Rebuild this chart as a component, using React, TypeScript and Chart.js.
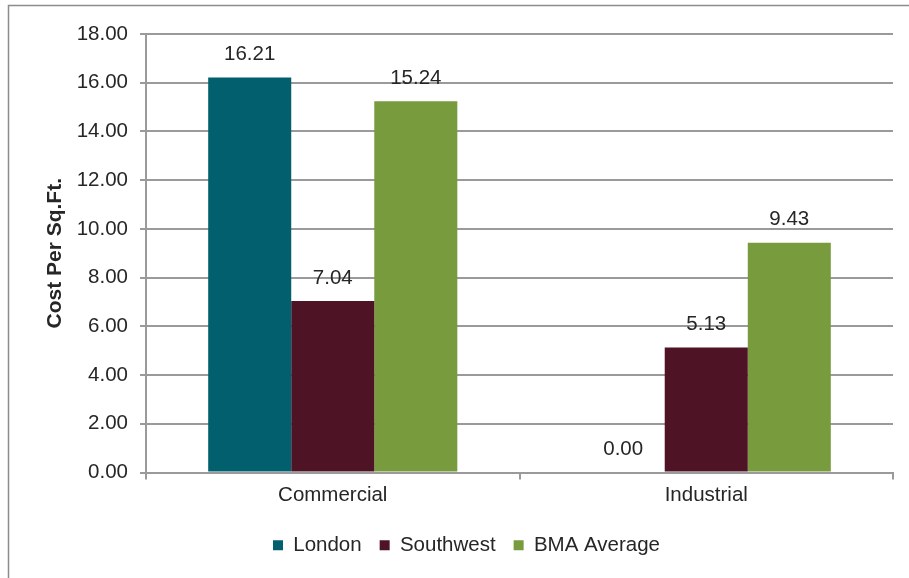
import React, { useEffect, useRef } from "react";
import { Chart, registerables } from "chart.js";

Chart.register(...registerables);

const categories = ["Commercial", "Industrial"];
const londonValues = [16.21, 0.0];
const southwestValues = [7.04, 5.13];
const bmaValues = [15.24, 9.43];
const seriesNames = ["London", "Southwest", "BMA Average"];
const yTitle = "Cost Per Sq.Ft.";

const FONT = "'Liberation Sans', Arial, Helvetica, sans-serif";
const TEXT = "#262626";
const GRID = "#9a9a9a";

const frame = {
  id: "frame",
  beforeDraw(chart: any) {
    const ctx = chart.ctx;
    ctx.save();
    ctx.fillStyle = "#ffffff";
    ctx.fillRect(0, 0, chart.width, chart.height);
    ctx.strokeStyle = "#8c8c8c";
    ctx.lineWidth = 1.5;
    ctx.strokeRect(8.5, 5.5, chart.width + 20, chart.height + 20);
    ctx.restore();
  },
};

const valueLabels = {
  id: "valueLabels",
  afterDatasetsDraw(chart: any) {
    const ctx = chart.ctx;
    ctx.save();
    ctx.font = `20.5px ${FONT}`;
    ctx.fillStyle = TEXT;
    ctx.textAlign = "center";
    ctx.textBaseline = "middle";
    chart.data.datasets.forEach((ds: any, i: number) => {
      const meta = chart.getDatasetMeta(i);
      meta.data.forEach((bar: any, j: number) => {
        const v = ds.data[j] as number;
        ctx.fillText(v.toFixed(2), bar.x, bar.y - 23);
      });
    });
    ctx.restore();
  },
};

export default function App() {
  const ref = useRef<HTMLCanvasElement | null>(null);
  useEffect(() => {
    if (!ref.current) return;
    const chart = new Chart(ref.current, {
      type: "bar",
      data: {
        labels: categories,
        datasets: [
          { label: seriesNames[0], data: londonValues, backgroundColor: "#025F6D" },
          { label: seriesNames[1], data: southwestValues, backgroundColor: "#4F1326" },
          { label: seriesNames[2], data: bmaValues, backgroundColor: "#789B3E" },
        ],
      },
      options: {
        animation: false,
        responsive: false,
        maintainAspectRatio: false,
        layout: { padding: { left: 40, top: 34, right: 16, bottom: 12.5 } },
        datasets: {
          bar: { categoryPercentage: 0.667, barPercentage: 1.0 },
        },
        scales: {
          x: {
            grid: {
              offset: true,
              drawOnChartArea: false,
              drawTicks: true,
              tickLength: 7,
              color: GRID,
              lineWidth: 2,
            },
            border: { display: true, color: GRID, width: 2 },
            ticks: {
              color: TEXT,
              font: { family: FONT, size: 20.5 },
              padding: 4,
            },
            afterFit: (s: any) => {
              s.height = 44.5;
            },
          },
          y: {
            min: 0,
            max: 18,
            ticks: {
              stepSize: 2,
              color: TEXT,
              font: { family: FONT, size: 20.5 },
              padding: 12,
              callback: (v: any) => Number(v).toFixed(2),
            },
            grid: { color: GRID, lineWidth: 2, tickLength: 6, drawTicks: true },
            border: { display: true, color: GRID, width: 2 },
            title: {
              display: true,
              text: yTitle,
              color: TEXT,
              font: { family: FONT, size: 21, weight: "bold" },
              padding: { top: 2.5, bottom: 0 },
            },
            afterFit: (s: any) => {
              s.width = 106;
            },
          },
        },
        plugins: {
          legend: {
            display: true,
            position: "bottom",
            labels: {
              boxWidth: 10,
              boxHeight: 10,
              color: TEXT,
              font: { family: FONT, size: 20.5 },
              padding: 18,
            },
          },
          tooltip: { enabled: false },
        },
      },
      plugins: [frame, valueLabels],
    });
    return () => chart.destroy();
  }, []);
  return (
    <div style={{ position: "fixed", left: 0, top: 0, width: 909, height: 578 }}>
      <canvas ref={ref} width={909} height={578} style={{ display: "block", width: 909, height: 578 }} />
    </div>
  );
}
